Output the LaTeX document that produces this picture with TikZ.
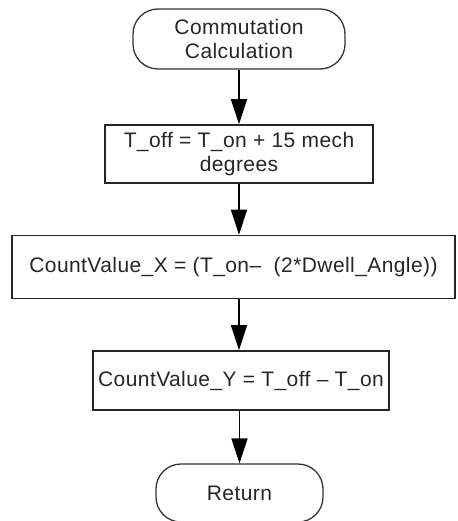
\documentclass[tikz,border=0pt]{standalone}
\usepackage{fontspec}
\setmainfont[LetterSpace=2]{Liberation Sans}
\usetikzlibrary{arrows.meta}
\begin{document}
\begin{tikzpicture}[x=1pt,y=1pt,
  txt/.style={font=\fontsize{21}{24.5}\selectfont, align=center, inner sep=0pt, text=black!85},
  term/.style={txt, draw=black!80, line width=1.3pt, rounded corners=25pt},
  proc/.style={txt, draw=black!85, line width=1.6pt},
  arr/.style={draw=black, line width=1.6pt, -{Triangle[length=25pt,width=16pt]}}]
\useasboundingbox (0,0) rectangle (457,-521);
\node[term, minimum width=212pt, minimum height=60pt] (start) at (239,-39) {Commutation\\Calculation};
\node[proc, minimum width=268pt, minimum height=58pt] (b1) at (239,-154) {T\_off = T\_on + 15 mech\\degrees};
\node[proc, minimum width=443pt, minimum height=63pt] (b2) at (233.5,-267) {CountValue\_X = (T\_on– \ (2*Dwell\_Angle))};
\node[proc, minimum width=296pt, minimum height=59pt] (b3) at (241,-380.5) {CountValue\_Y = T\_off – T\_on};
\node[term, minimum width=167pt, minimum height=58pt] (ret) at (239.5,-493) {Return};
\draw[arr] (start.south) -- (start.south |- b1.north);
\draw[arr] (b1.south) -- (b1.south |- b2.north);
\draw[arr] (b1.south |- b2.south) -- (b1.south |- b3.north);
\draw[arr] (ret.north |- b3.south) -- (ret.north);
\end{tikzpicture}
\end{document}
